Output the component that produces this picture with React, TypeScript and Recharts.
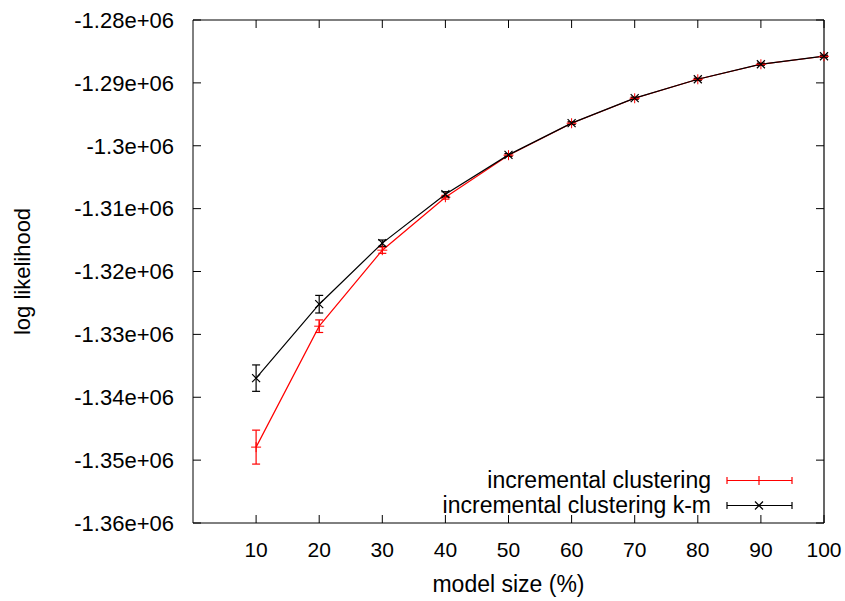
import { ErrorBar, Line, LineChart, ReferenceLine, XAxis, YAxis } from "recharts";

const modelSizes = [10, 20, 30, 40, 50, 60, 70, 80, 90, 100];
const incremental = [
  -1347930, -1328700, -1316610, -1308190, -1301500, -1296420, -1292450, -1289430, -1287040,
  -1285770
];
const incrementalErr = [2700, 1000, 500, 300, 200, 200, 150, 150, 150, 150];
const incrementalKm = [
  -1336960, -1325200, -1315490, -1307710, -1301450, -1296400, -1292430, -1289420, -1287030,
  -1285760
];
const incrementalKmErr = [2100, 1400, 500, 400, 200, 200, 150, 150, 150, 150];
const yTicks = [-1360000, -1350000, -1340000, -1330000, -1320000, -1310000, -1300000, -1290000, -1280000];

const data = modelSizes.map((size, i) => ({
  size,
  inc: incremental[i],
  incErr: incrementalErr[i],
  km: incrementalKm[i],
  kmErr: incrementalKmErr[i]
}));

const FONT = "'Liberation Sans', Arial, sans-serif";
const RED = "#ff0000";

// chart box
const W = 845;
const H = 601;
const MARGIN = { top: 20, right: 21, bottom: 0, left: 0 };
const Y_AXIS_W = 193;
const X_AXIS_H = 78;
const PLOT_LEFT = MARGIN.left + Y_AXIS_W;
const PLOT_RIGHT = W - MARGIN.right;
const PLOT_TOP = MARGIN.top;
const PLOT_BOTTOM = H - X_AXIS_H;
const TICK = 8;

const fmtY = (v: number) => `${Number((v / 1e6).toFixed(2))}e+06`;

// gnuplot style: tick marks point into the plot, mirrored on top / right
const BottomTick = (props: any) => {
  const { x, payload } = props;
  return (
    <g>
      <line x1={x} x2={x} y1={PLOT_BOTTOM} y2={PLOT_BOTTOM - TICK} stroke="#000" />
      <line x1={x} x2={x} y1={PLOT_TOP} y2={PLOT_TOP + TICK} stroke="#000" />
      <text
        x={x}
        y={PLOT_BOTTOM + 19}
        dy="0.71em"
        textAnchor="middle"
        fontSize={21}
        fontFamily={FONT}
        fill="#000"
      >
        {payload.value}
      </text>
    </g>
  );
};

const LeftTick = (props: any) => {
  const { y, payload } = props;
  return (
    <g>
      <line x1={PLOT_LEFT} x2={PLOT_LEFT + TICK} y1={y} y2={y} stroke="#000" />
      <line x1={PLOT_RIGHT} x2={PLOT_RIGHT - TICK} y1={y} y2={y} stroke="#000" />
      <text
        x={PLOT_LEFT - 19}
        y={y}
        dy="0.355em"
        textAnchor="end"
        fontSize={22}
        fontFamily={FONT}
        fill="#000"
      >
        {fmtY(payload.value)}
      </text>
    </g>
  );
};

const PlusDot = (props: any) => {
  const { cx, cy } = props;
  if (cx == null || cy == null) return null;
  return <path d={`M${cx - 5},${cy}h10M${cx},${cy - 5}v10`} stroke={RED} strokeWidth={1} />;
};

const CrossDot = (props: any) => {
  const { cx, cy } = props;
  if (cx == null || cy == null) return null;
  return (
    <path d={`M${cx - 4},${cy - 4}l8,8M${cx - 4},${cy + 4}l8,-8`} stroke="#000" strokeWidth={1.2} />
  );
};

const YLabel = (props: any) => {
  const vb = props.viewBox;
  const cy = vb.y + vb.height / 2;
  return (
    <text
      x={30}
      y={cy}
      transform={`rotate(-90 30 ${cy})`}
      textAnchor="middle"
      fontSize={22}
      fontFamily={FONT}
      fill="#000"
    >
      log likelihood
    </text>
  );
};

const legendItems = [
  { label: "incremental clustering", color: RED, marker: "plus" },
  { label: "incremental clustering k-m", color: "#000", marker: "cross" }
];

function LegendBox() {
  return (
    <div style={{ position: "absolute", left: 300, top: 468, width: 500, fontFamily: FONT }}>
      {legendItems.map(item => (
        <div
          key={item.label}
          style={{ display: "flex", justifyContent: "flex-end", alignItems: "center", height: 25 }}
        >
          <span style={{ fontSize: 23, lineHeight: "25px", color: "#000" }}>{item.label}</span>
          <svg width={89} height={25} style={{ display: "block" }}>
            <path
              d="M16,12.5H81M16,9v7M81,9v7"
              stroke={item.color}
              strokeWidth={1.2}
              fill="none"
            />
            {item.marker === "plus" ? (
              <path d="M48,8v9" stroke={item.color} strokeWidth={1.2} />
            ) : (
              <path d="M44,8.5l8,8M44,16.5l8,-8" stroke={item.color} strokeWidth={1.2} />
            )}
          </svg>
        </div>
      ))}
    </div>
  );
}

export default function App() {
  return (
    <div style={{ position: "absolute", left: 0, top: 0, width: W, height: H, background: "#fff" }}>
      <LineChart width={W} height={H} data={data} margin={MARGIN} style={{ fontFamily: FONT }}>
        <XAxis
          dataKey="size"
          type="number"
          domain={[0, 100]}
          ticks={modelSizes}
          height={X_AXIS_H}
          tickLine={false}
          stroke="#000"
          tick={<BottomTick />}
          label={{
            value: "model size (%)",
            position: "insideBottom",
            offset: 9,
            fill: "#000",
            fontSize: 23
          }}
        />
        <YAxis
          type="number"
          domain={[-1360000, -1280000]}
          ticks={yTicks}
          width={Y_AXIS_W}
          tickLine={false}
          stroke="#000"
          tick={<LeftTick />}
          label={<YLabel />}
        />
        {/* top and right border of the frame */}
        <ReferenceLine x={100} stroke="#000" strokeWidth={1.2} />
        <ReferenceLine y={-1280000} stroke="#000" strokeWidth={1.2} />
        <Line
          dataKey="inc"
          stroke={RED}
          strokeWidth={1.2}
          dot={<PlusDot />}
          activeDot={false}
          isAnimationActive={false}
        >
          <ErrorBar dataKey="incErr" width={4} stroke={RED} strokeWidth={1.2} direction="y" isAnimationActive={false} />
        </Line>
        <Line
          dataKey="km"
          stroke="#000"
          strokeWidth={1.2}
          dot={<CrossDot />}
          activeDot={false}
          isAnimationActive={false}
        >
          <ErrorBar dataKey="kmErr" width={4} stroke="#000" strokeWidth={1.2} direction="y" isAnimationActive={false} />
        </Line>
      </LineChart>
      <LegendBox />
    </div>
  );
}
